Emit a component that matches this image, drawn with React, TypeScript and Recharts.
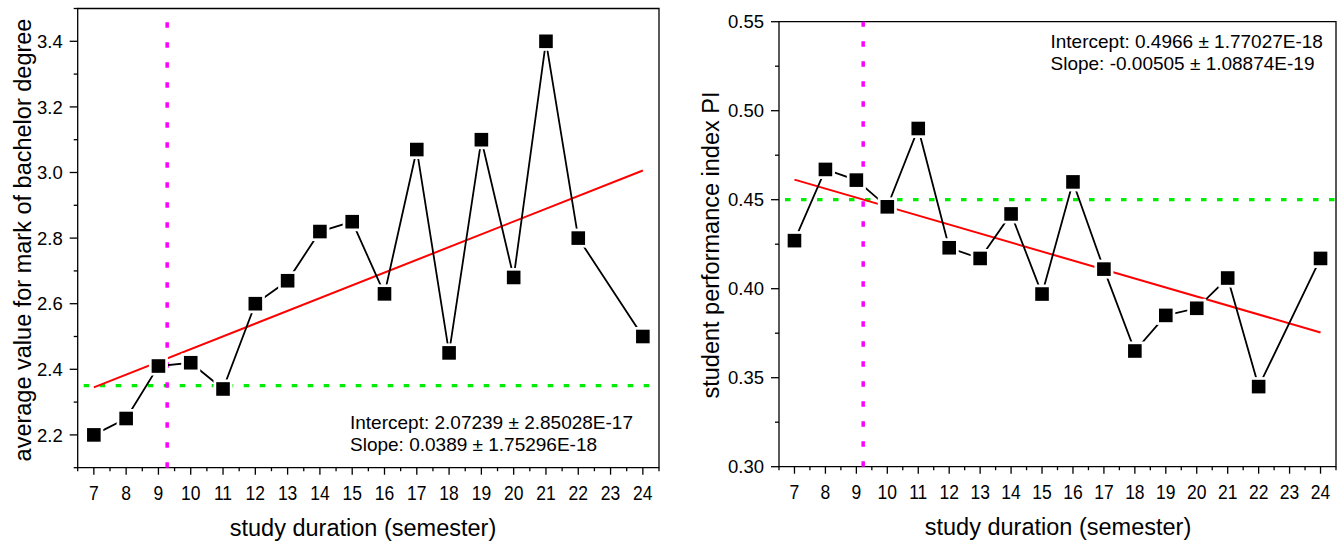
import React from 'react';
import { ComposedChart, Line, XAxis, YAxis, ReferenceLine, ReferenceArea } from 'recharts';

// ---------- data ----------
const semesters = [7, 8, 9, 10, 11, 12, 13, 14, 15, 16, 17, 18, 19, 20, 21, 22, 24];
const markValues = [2.2, 2.25, 2.41, 2.42, 2.34, 2.6, 2.67, 2.82, 2.85, 2.63, 3.07, 2.45, 3.1, 2.68, 3.4, 2.8, 2.5];
const piValues = [0.427, 0.467, 0.461, 0.446, 0.49, 0.423, 0.417, 0.442, 0.397, 0.46, 0.411, 0.365, 0.385, 0.389, 0.406, 0.345, 0.417];

const xTicks = [6.5, 7, 7.5, 8, 8.5, 9, 9.5, 10, 10.5, 11, 11.5, 12, 12.5, 13, 13.5, 14, 14.5, 15, 15.5, 16, 16.5, 17, 17.5, 18, 18.5, 19, 19.5, 20, 20.5, 21, 21.5, 22, 22.5, 23, 23.5, 24, 24.5];
const markMajorTicks = [2.2, 2.4, 2.6, 2.8, 3.0, 3.2, 3.4];
const markMinorTicks = [2.1, 2.3, 2.5, 2.7, 2.9, 3.1, 3.3, 3.5];
const piMajorTicks = [0.3, 0.35, 0.4, 0.45, 0.5, 0.55];
const piMinorTicks = [0.325, 0.375, 0.425, 0.475, 0.525];

const markFitX = [7, 24];
const markFitY = [2.345, 3.006];
const piFitX = [7, 24];
const piFitY = [0.4613, 0.3754];

const markMean = 2.35;
const piMean = 0.45;
const markCut = 9.27;
const piCut = 9.22;

const markFitText = ['Intercept: 2.07239 \u00b1 2.85028E-17', 'Slope: 0.0389 \u00b1 1.75296E-18'];
const piFitText = ['Intercept: 0.4966 \u00b1 1.77027E-18', 'Slope: -0.00505 \u00b1 1.08874E-19'];

const markData = semesters.map((x, i) => ({ x, y: markValues[i] }));
const piData = semesters.map((x, i) => ({ x, y: piValues[i] }));
const markFit = markFitX.map((x, i) => ({ x, y: markFitY[i] }));
const piFit = piFitX.map((x, i) => ({ x, y: piFitY[i] }));

// ---------- styling ----------
const FONT = 'Arial, "Liberation Sans", sans-serif';
const XTICK_FS = 17.5;
const YTICK_FS = 18.5;
const TITLE_FS = 23.5;
const NOTE_FS = 19;

const near = (a: number, list: number[]) => list.some((v) => Math.abs(v - a) < 1e-6);

const Stretch = ({ x, y, k, children, ...rest }: any) => (
  <text x={0} y={0} transform={`translate(${x} ${y}) scale(1 ${k})`} fontFamily={FONT} fill="#000" {...rest}>
    {children}
  </text>
);

const XTick = (props: any) => {
  const { x, y, payload } = props;
  const v = payload.value as number;
  const major = Number.isInteger(v);
  return (
    <g>
      <line x1={x} x2={x} y1={y} y2={y + (major ? 7 : 3.5)} stroke="#000" strokeWidth={1.3} />
      {major && (
        <Stretch x={x} y={y + 31.8} k={1.12} textAnchor="middle" fontSize={XTICK_FS}>
          {v}
        </Stretch>
      )}
    </g>
  );
};

const makeYTick = (majors: number[], digits: number) => (props: any) => {
  const { x, y, payload } = props;
  const v = payload.value as number;
  const major = near(v, majors);
  return (
    <g>
      <line x1={x - (major ? 8 : 4)} x2={x} y1={y} y2={y} stroke="#000" strokeWidth={1.3} />
      {major && (
        <text x={x - 15} y={y} dy="0.36em" textAnchor="end" fontFamily={FONT} fontSize={YTICK_FS} fill="#000">
          {v.toFixed(digits)}
        </text>
      )}
    </g>
  );
};

const SquareDot = (props: any) => {
  const { cx, cy, index } = props;
  if (cx == null || cy == null) return <g key={index} />;
  return (
    <g key={index}>
      <rect x={cx - 9.5} y={cy - 9.5} width={19} height={19} fill="#fff" />
      <rect x={cx - 6.8} y={cy - 6.8} width={13.6} height={13.6} fill="#000" />
    </g>
  );
};

const markYTick = makeYTick(markMajorTicks, 1);
const piYTick = makeYTick(piMajorTicks, 2);

export default function App() {
  return (
    <div style={{ position: 'absolute', left: 0, top: 0, width: 1343, height: 544, background: '#fff' }}>
      <div style={{ position: 'absolute', left: 0, top: 0 }}>
        <ComposedChart
          width={670}
          height={544}
          data={markData}
          margin={{ top: 8.5, right: 11, bottom: 0, left: 0 }}
        >
          <XAxis
            type="number"
            dataKey="x"
            domain={[6.5, 24.5]}
            ticks={xTicks}
            interval={0}
            tickSize={0}
            tickMargin={0}
            tickLine={false}
            axisLine={false}
            tick={XTick}
            height={76.3}
            allowDataOverflow
          />
          <YAxis
            type="number"
            domain={[2.1, 3.5]}
            ticks={[...markMajorTicks, ...markMinorTicks].sort((a, b) => a - b)}
            interval={0}
            tickSize={0}
            tickMargin={0}
            tickLine={false}
            axisLine={false}
            tick={markYTick}
            width={77.7}
            allowDataOverflow
          />
          <ReferenceArea x1={6.5} x2={24.5} y1={2.1} y2={3.5} fill="none" fillOpacity={0} stroke="#000" strokeWidth={1.3} />
          <ReferenceLine
            segment={[{ x: 6.5, y: markMean }, { x: 24.5, y: markMean }]}
            stroke="#00ee00"
            strokeWidth={3.3}
            strokeDasharray="5.5 10.5"
            strokeDashoffset={-6}
          />
          <Line data={markFit} dataKey="y" type="linear" stroke="#ff0000" strokeWidth={2} dot={false} isAnimationActive={false} />
          <ReferenceLine x={markCut} stroke="#ff00ff" strokeWidth={3.5} strokeDasharray="5.5 14.5" />
          <Line dataKey="y" type="linear" stroke="#000" strokeWidth={1.8} dot={SquareDot} activeDot={false} isAnimationActive={false} />
        </ComposedChart>
      </div>
      <div style={{ position: 'absolute', left: 670, top: 0 }}>
        <ComposedChart
          width={673}
          height={544}
          data={piData}
          margin={{ top: 21.7, right: 7, bottom: 0, left: 0 }}
        >
          <XAxis
            type="number"
            dataKey="x"
            domain={[6.5, 24.5]}
            ticks={xTicks}
            interval={0}
            tickSize={0}
            tickMargin={0}
            tickLine={false}
            axisLine={false}
            tick={XTick}
            height={77.3}
            allowDataOverflow
          />
          <YAxis
            type="number"
            domain={[0.3, 0.55]}
            ticks={[...piMajorTicks, ...piMinorTicks].sort((a, b) => a - b)}
            interval={0}
            tickSize={0}
            tickMargin={0}
            tickLine={false}
            axisLine={false}
            tick={piYTick}
            width={109}
            allowDataOverflow
          />
          <ReferenceArea x1={6.5} x2={24.5} y1={0.3} y2={0.55} fill="none" fillOpacity={0} stroke="#000" strokeWidth={1.3} />
          <ReferenceLine
            segment={[{ x: 6.5, y: piMean }, { x: 24.5, y: piMean }]}
            stroke="#00ee00"
            strokeWidth={3.3}
            strokeDasharray="5.5 10.5"
            strokeDashoffset={-6}
          />
          <Line data={piFit} dataKey="y" type="linear" stroke="#ff0000" strokeWidth={2} dot={false} isAnimationActive={false} />
          <ReferenceLine x={piCut} stroke="#ff00ff" strokeWidth={3.5} strokeDasharray="5.5 14.5" />
          <Line dataKey="y" type="linear" stroke="#000" strokeWidth={1.8} dot={SquareDot} activeDot={false} isAnimationActive={false} />
        </ComposedChart>
      </div>
      <svg
        width={1343}
        height={544}
        style={{ position: 'absolute', left: 0, top: 0, pointerEvents: 'none' }}
        fontFamily={FONT}
      >
        <text x={23} y={240} transform="rotate(-90 23 240)" textAnchor="middle" dy="0.35em" fontSize={TITLE_FS} fill="#000">
          average value for mark of bachelor degree
        </text>
        <text x={363} y={536} textAnchor="middle" fontSize={TITLE_FS} fill="#000">
          study duration (semester)
        </text>
        <text x={350} y={429} fontSize={NOTE_FS} fill="#000">{markFitText[0]}</text>
        <text x={350} y={451} fontSize={NOTE_FS} fill="#000">{markFitText[1]}</text>

        <text x={711} y={245} transform="rotate(-90 711 245)" textAnchor="middle" dy="0.35em" fontSize={TITLE_FS} fill="#000">
          student performance index PI
        </text>
        <text x={1058} y={535} textAnchor="middle" fontSize={TITLE_FS} fill="#000">
          study duration (semester)
        </text>
        <text x={1050.5} y={48} fontSize={NOTE_FS} fill="#000">{piFitText[0]}</text>
        <text x={1050.5} y={70} fontSize={NOTE_FS} fill="#000">{piFitText[1]}</text>
      </svg>
    </div>
  );
}
